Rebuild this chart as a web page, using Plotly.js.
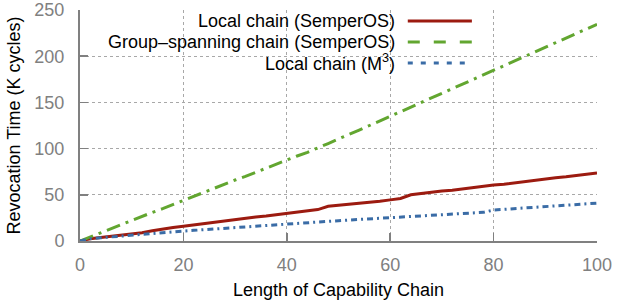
<!DOCTYPE html>
<html><head><meta charset="utf-8">
<script src="https://cdn.plot.ly/plotly-3.0.1.min.js"></script>
<style>html,body{margin:0;padding:0;background:#fff}#chart{width:617px;height:304px}</style>
</head><body><div id="chart"></div>
<script>
const chainLength = [0,2,4,6,8,10,12,14,16,18,20,22,24,26,28,30,32,34,36,38,40,42,44,46,48,50,52,54,56,58,60,62,64,66,68,70,72,74,76,78,80,82,84,86,88,90,92,94,96,98,100];
const localSemper = [0,2.5,3.8,5,6,7.5,9,11,13,14.5,16,17.5,19,20.5,21.5,23,24.5,26,27,28.5,30,31,32.5,34,37.5,38.5,39.5,40.5,41.5,43,44.5,46,50,51.5,52.5,54,55,56.5,57.5,59,60.5,61.5,63,64,65.5,67,68.5,69.5,71,72,73.5];
const groupSemper = [0,4.5,9,13,17.5,22,26.5,31,35,39.5,44,48.5,53,57,61.5,66,70,74.5,79,83,87.5,92,96,100.5,105.5,110.5,115,120,125,130,134.5,139.5,145,150,155,160,165,170,175,180,185,190,195,200,205,210,214.5,219.5,224.5,229.5,234.5];
const localM3 = [0,2.5,3.5,4.5,5.5,6.5,7.5,8,9,10,10.8,11.5,12.3,13,13.7,14.3,15,15.7,16.5,17.3,18,19,20,21,21.5,22,22.7,23.3,24,24.5,25,25.7,26.7,27.3,28,28.7,29.3,30,30.5,31,33.5,34.2,35,35.7,36.5,37.3,38,38.8,39.5,40.3,41];
const seriesNames = ['Local chain (SemperOS)', 'Group\u2013spanning chain (SemperOS)', 'Local chain (M<sup>3</sup>)'];
const xTicks = [0,20,40,60,80,100];
const yTicks = [0,50,100,150,200,250];

const colors = ['#9c1b10', '#62a630', '#3a6ca6'];
const plotDash = ['solid', '14px,6px,3px,6px', '6px,4px,2px,4px'];
const legendDash = ['solid', '12px,14px', '5px,8px'];
const series = [localSemper, groupSemper, localM3];

const traces = series.map((ys, i) => ({
  x: chainLength, y: ys, type: 'scatter', mode: 'lines', name: seriesNames[i],
  line: {color: colors[i], width: 3, dash: plotDash[i]}, showlegend: false
}));

const fontFam = '"Liberation Sans", Arial, Helvetica, sans-serif';
const gray = '#808080';
const rowY = [0.952, 0.861, 0.771];

const shapes = [{
  type: 'rect', xref: 'paper', yref: 'paper', x0: 0.021, x1: 0.793, y0: 0.712, y1: 0.99,
  fillcolor: '#ffffff', line: {width: 0}, layer: 'between'
}];
const annotations = [];
seriesNames.forEach((n, i) => {
  shapes.push({type: 'line', xref: 'paper', yref: 'paper', x0: 0.634, x1: 0.758, y0: rowY[i], y1: rowY[i],
    line: {color: colors[i], width: 3, dash: legendDash[i]}, layer: 'above'});
  annotations.push({xref: 'paper', yref: 'paper', x: 0.613, y: rowY[i], xanchor: 'right', yanchor: 'middle',
    text: n, showarrow: false, font: {family: fontFam, size: 18, color: '#000'}});
});

const axisCommon = {
  showline: true, linecolor: gray, linewidth: 2, ticks: 'inside', ticklen: 8, tickwidth: 1.5, tickcolor: gray,
  showgrid: true, gridcolor: '#a8a8a8', gridwidth: 1, griddash: '3px,3px', zeroline: false,
  tickfont: {family: fontFam, size: 18, color: gray}
};

const layout = {
  width: 617, height: 304, margin: {l: 80, r: 20, t: 10, b: 63},
  paper_bgcolor: '#fff', plot_bgcolor: '#fff', showlegend: false,
  xaxis: Object.assign({}, axisCommon, {range: [0, 100], tickvals: xTicks, ticklabelstandoff: 6,
    title: {text: 'Length of Capability Chain', font: {family: fontFam, size: 18, color: '#000'}, standoff: 10}}),
  yaxis: Object.assign({}, axisCommon, {range: [0, 250], tickvals: yTicks, ticklabelstandoff: 10,
    title: {text: 'Revocation Time (K cycles)', font: {family: fontFam, size: 18, color: '#000'}, standoff: 9}}),
  shapes: shapes, annotations: annotations
};

Plotly.newPlot('chart', traces, layout, {displayModeBar: false, staticPlot: true});
</script></body></html>
